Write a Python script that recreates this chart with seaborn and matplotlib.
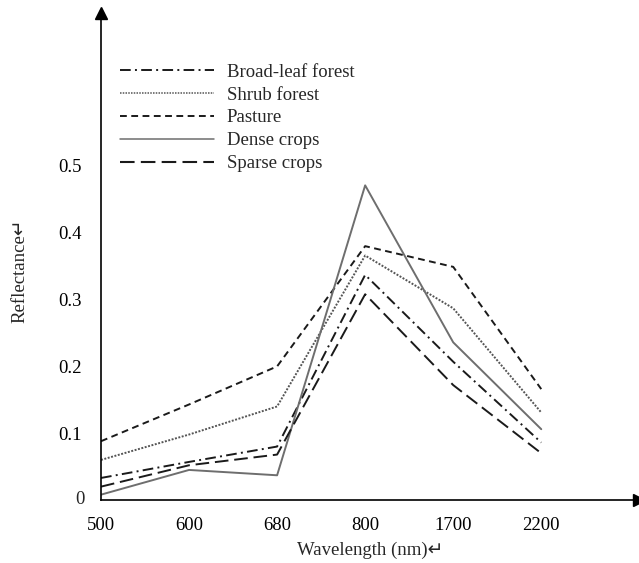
import matplotlib
matplotlib.use("Agg")
import matplotlib.pyplot as plt
import seaborn as sns
import pandas as pd

wavelengths = ["500", "600", "680", "800", "1700", "2200"]
broad_leaf = [0.033, 0.057, 0.080, 0.337, 0.207, 0.086]
shrub = [0.060, 0.098, 0.140, 0.366, 0.287, 0.131]
pasture = [0.088, 0.143, 0.200, 0.380, 0.349, 0.166]
dense = [0.008, 0.045, 0.037, 0.471, 0.236, 0.106]
sparse = [0.020, 0.052, 0.068, 0.308, 0.172, 0.070]
series_names = ["Broad-leaf forest", "Shrub forest", "Pasture", "Dense crops", "Sparse crops"]
y_ticks = [0, 0.1, 0.2, 0.3, 0.4, 0.5]
y_tick_labels = ["0", "0.1", "0.2", "0.3", "0.4", "0.5"]

values = [broad_leaf, shrub, pasture, dense, sparse]
rows = []
for name, vals in zip(series_names, values):
    for w, v in zip(wavelengths, vals):
        rows.append({"Wavelength": w, "Reflectance": v, "Type": name})
df = pd.DataFrame(rows)

sns.set_style("white")
plt.rcParams["font.family"] = ["Liberation Serif", "DejaVu Sans"]
plt.rcParams["font.size"] = 13.5

fig = plt.figure(figsize=(6.39, 5.63), dpi=100)
ax = fig.add_axes([101 / 639, 63 / 563, 538 / 639, 487 / 563])

palette = {"Broad-leaf forest": "#1a1a1a", "Shrub forest": "#555555",
           "Pasture": "#1a1a1a", "Dense crops": "#6e6e6e", "Sparse crops": "#1a1a1a"}
dashes = {"Broad-leaf forest": (5.5, 2.2, 1.0, 2.2), "Shrub forest": (1, 0.8),
          "Pasture": (3.5, 2.3), "Dense crops": "", "Sparse crops": (7, 3)}

sns.lineplot(data=df, x="Wavelength", y="Reflectance", hue="Type", style="Type",
             palette=palette, dashes=dashes, linewidth=1.4, ax=ax, sort=False)

widths = {"Broad-leaf forest": 1.4, "Shrub forest": 1.1, "Pasture": 1.4,
          "Dense crops": 1.1, "Sparse crops": 1.5}
for line in ax.lines:
    lab = line.get_label()
    if lab in widths:
        line.set_linewidth(widths[lab])

handles, labels = ax.get_legend_handles_labels()
for h, l in zip(handles, labels):
    if l in widths:
        h.set_linewidth(widths[l])
ax.legend(handles, labels, loc="upper left", bbox_to_anchor=(120 / 639, 1 - 63.5 / 563),
          bbox_transform=fig.transFigure, frameon=False, fontsize=13.5,
          handlelength=5.0, handletextpad=0.7, labelspacing=0.31,
          borderpad=0, borderaxespad=0)

ax.set_xlim(0, 6.11)
ax.set_ylim(0, 0.729)
ax.set_yticks(y_ticks[1:])
ax.set_yticklabels(y_tick_labels[1:])
ax.set_xticks(range(len(wavelengths)))
ax.set_xticklabels(wavelengths)
ax.text(-0.03, 0, "0", transform=ax.transAxes, ha="right", va="center", fontsize=13.5)

for side in ["top", "right"]:
    ax.spines[side].set_visible(False)
for side in ["left", "bottom"]:
    ax.spines[side].set_color("black")
    ax.spines[side].set_linewidth(1.2)
ax.tick_params(axis="both", direction="in", length=9, width=1, colors="black",
               labelsize=13.5, pad=14)
ax.tick_params(axis="x", pad=12)

ax.plot(1, 0, ">k", transform=ax.transAxes, clip_on=False, markersize=9)
ax.plot(0, 1, "^k", transform=ax.transAxes, clip_on=False, markersize=9)

ax.set_xlabel("Wavelength (nm)\u21b5", fontsize=13.5)
ax.set_ylabel("Reflectance\u21b5", fontsize=13.5)
ax.xaxis.set_label_coords(0.5, -0.086)
ax.yaxis.set_label_coords(-0.135, 0.47)

fig.savefig("out.png", dpi=100)
